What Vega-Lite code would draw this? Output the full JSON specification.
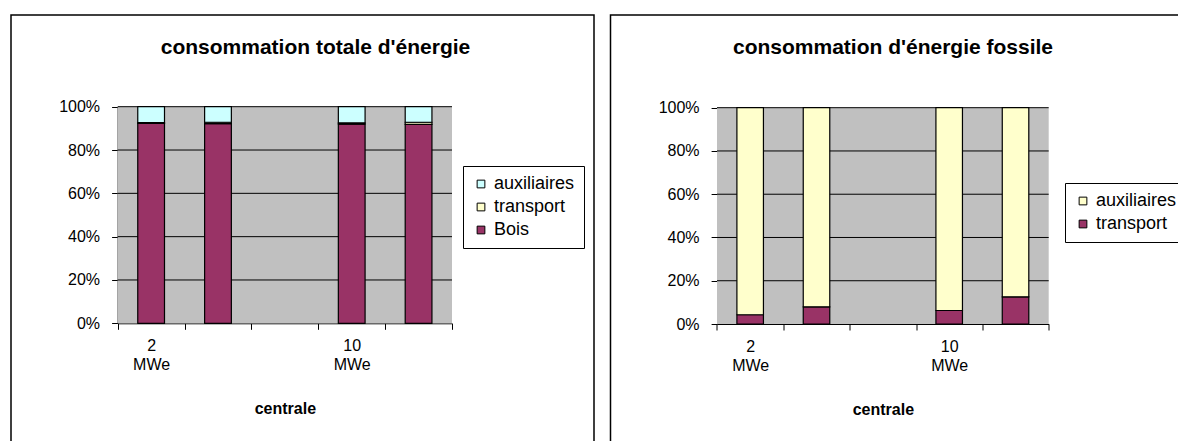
{
  "$schema": "https://vega.github.io/schema/vega-lite/v6.json",
  "background": "white",
  "padding": {"left": 10, "top": 14, "right": 0, "bottom": 0},
  "bounds": "flush",
  "spacing": 16.5,
  "datasets": {
    "energie": [
      {"centrale": "2 MWe a", "source": "Bois", "valeur": 92.3},
      {"centrale": "2 MWe a", "source": "transport", "valeur": 0.33},
      {"centrale": "2 MWe a", "source": "auxiliaires", "valeur": 7.37},
      {"centrale": "2 MWe b", "source": "Bois", "valeur": 92.2},
      {"centrale": "2 MWe b", "source": "transport", "valeur": 0.62},
      {"centrale": "2 MWe b", "source": "auxiliaires", "valeur": 7.18},
      {"centrale": "10 MWe a", "source": "Bois", "valeur": 92.0},
      {"centrale": "10 MWe a", "source": "transport", "valeur": 0.5},
      {"centrale": "10 MWe a", "source": "auxiliaires", "valeur": 7.5},
      {"centrale": "10 MWe b", "source": "Bois", "valeur": 91.8},
      {"centrale": "10 MWe b", "source": "transport", "valeur": 1.03},
      {"centrale": "10 MWe b", "source": "auxiliaires", "valeur": 7.17}
    ],
    "sources": [
      {"source": "Bois", "rang": 1},
      {"source": "transport", "rang": 2},
      {"source": "auxiliaires", "rang": 3}
    ],
    "paliers": [{"palier": 0.2}, {"palier": 0.4}, {"palier": 0.6}, {"palier": 0.8}, {"palier": 1.0}]
  },
  "hconcat": [
    {
      "width": 583,
      "height": 430,
      "title": {"text": "consommation totale d'énergie", "fontSize": 21, "fontWeight": "bold", "color": "black", "anchor": "middle", "frame": "group", "baseline": "alphabetic", "offset": -60, "dx": 13},
      "layer": [
        {
          "data": {"values": [{}]},
          "mark": {"type": "rect", "color": "#C0C0C0"},
          "encoding": {
            "x": {"datum": 0, "type": "quantitative", "scale": {"domain": [0, 1], "range": [106.7, 441]}, "axis": null},
            "x2": {"datum": 1},
            "y": {"datum": 0, "type": "quantitative", "axis": {"title": null, "values": [0, 0.2, 0.4, 0.6, 0.8, 1], "format": ".0%"}},
            "y2": {"datum": 1}
          }
        },
        {
          "data": {"name": "paliers"},
          "mark": {"type": "rule", "color": "black", "strokeWidth": 1},
          "encoding": {
            "x": {"datum": 0, "type": "quantitative", "scale": {"domain": [0, 1], "range": [106.7, 441]}, "axis": null},
            "x2": {"datum": 1},
            "y": {"field": "palier", "type": "quantitative", "axis": {"title": null, "values": [0, 0.2, 0.4, 0.6, 0.8, 1], "format": ".0%"}}
          }
        },
        {
          "data": {"name": "energie"},
          "transform": [{"lookup": "source", "from": {"data": {"name": "sources"}, "key": "source", "fields": ["rang"]}}],
          "mark": {"type": "bar", "stroke": "black", "strokeWidth": 1.2, "width": {"band": 0.4}},
          "encoding": {
            "x": {
              "field": "centrale", "type": "nominal",
              "scale": {"domain": ["2 MWe a", "2 MWe b", "(vide)", "10 MWe a", "10 MWe b"], "range": [106.7, 441], "paddingInner": 0, "paddingOuter": 0},
              "axis": {"title": "centrale", "titleFontSize": 16, "titleFontWeight": "bold", "titlePadding": 28, "labelAngle": 0, "labelExpr": "datum.value == '2 MWe a' ? ['2', 'MWe'] : datum.value == '10 MWe a' ? ['10', 'MWe'] : ''", "labelLineHeight": 19, "labelPadding": 8, "tickBand": "extent", "tickSize": 6, "offset": -121.7}
            },
            "y": {
              "field": "valeur", "type": "quantitative", "stack": "normalize",
              "scale": {"domain": [0, 1], "range": [308.3, 91.7], "nice": false},
              "axis": {"title": null, "values": [0, 0.2, 0.4, 0.6, 0.8, 1], "format": ".0%"}
            },
            "order": {"field": "rang", "type": "quantitative", "sort": "ascending"},
            "color": {
              "field": "source", "type": "nominal",
              "sort": ["auxiliaires", "transport", "Bois"],
              "scale": {"range": ["#CCFFFF", "#FFFFCC", "#993366"]},
              "legend": {"title": null, "orient": "none", "legendX": 452, "legendY": 151}
            }
          }
        }
      ],
      "resolve": {"scale": {"x": "independent"}}
    },
    {
      "width": 583,
      "height": 430,
      "title": {"text": "consommation d'énergie fossile", "fontSize": 21, "fontWeight": "bold", "color": "black", "anchor": "middle", "frame": "group", "baseline": "alphabetic", "offset": -60, "dx": -9},
      "layer": [
        {
          "data": {"values": [{}]},
          "mark": {"type": "rect", "color": "#C0C0C0"},
          "encoding": {
            "x": {"datum": 0, "type": "quantitative", "scale": {"domain": [0, 1], "range": [106.5, 438.2]}, "axis": null},
            "x2": {"datum": 1},
            "y": {"datum": 0, "type": "quantitative", "axis": {"title": null, "values": [0, 0.2, 0.4, 0.6, 0.8, 1], "format": ".0%"}},
            "y2": {"datum": 1}
          }
        },
        {
          "data": {"name": "paliers"},
          "mark": {"type": "rule", "color": "black", "strokeWidth": 1},
          "encoding": {
            "x": {"datum": 0, "type": "quantitative", "scale": {"domain": [0, 1], "range": [106.5, 438.2]}, "axis": null},
            "x2": {"datum": 1},
            "y": {"field": "palier", "type": "quantitative", "axis": {"title": null, "values": [0, 0.2, 0.4, 0.6, 0.8, 1], "format": ".0%"}}
          }
        },
        {
          "data": {"name": "energie"},
          "transform": [
            {"filter": "datum.source != 'Bois'"},
            {"lookup": "source", "from": {"data": {"name": "sources"}, "key": "source", "fields": ["rang"]}}
          ],
          "mark": {"type": "bar", "stroke": "black", "strokeWidth": 1.2, "width": {"band": 0.4}},
          "encoding": {
            "x": {
              "field": "centrale", "type": "nominal",
              "scale": {"domain": ["2 MWe a", "2 MWe b", "(vide)", "10 MWe a", "10 MWe b"], "range": [106.5, 438.2], "paddingInner": 0, "paddingOuter": 0},
              "axis": {"title": "centrale", "titleFontSize": 16, "titleFontWeight": "bold", "titlePadding": 28, "labelAngle": 0, "labelExpr": "datum.value == '2 MWe a' ? ['2', 'MWe'] : datum.value == '10 MWe a' ? ['10', 'MWe'] : ''", "labelLineHeight": 19, "labelPadding": 8, "tickBand": "extent", "tickSize": 6, "offset": -121}
            },
            "y": {
              "field": "valeur", "type": "quantitative", "stack": "normalize",
              "scale": {"domain": [0, 1], "range": [309, 92.7], "nice": false},
              "axis": {"title": null, "values": [0, 0.2, 0.4, 0.6, 0.8, 1], "format": ".0%"}
            },
            "order": {"field": "rang", "type": "quantitative", "sort": "ascending"},
            "color": {
              "field": "source", "type": "nominal",
              "sort": ["auxiliaires", "transport"],
              "scale": {"range": ["#FFFFCC", "#993366"]},
              "legend": {"title": null, "orient": "none", "legendX": 454.5, "legendY": 168}
            }
          }
        }
      ],
      "resolve": {"scale": {"x": "independent"}}
    }
  ],
  "resolve": {"scale": {"color": "independent"}, "legend": {"color": "independent"}},
  "config": {
    "font": "Liberation Sans",
    "view": {"stroke": "black", "strokeWidth": 1.5},
    "axis": {"domainColor": "black", "domainWidth": 1, "tickColor": "black", "labelColor": "black", "titleColor": "black", "labelFont": "Liberation Sans", "labelFontSize": 16, "titleFont": "Liberation Sans", "zindex": 1, "grid": false},
    "axisY": {"tickSize": 6, "labelPadding": 12, "offset": -106.6, "labelOverlap": false, "labelFlush": false},
    "legend": {"labelFont": "Liberation Sans", "symbolType": "square", "symbolSize": 60, "symbolStrokeColor": "black", "symbolStrokeWidth": 1, "labelFontSize": 18, "labelColor": "black", "rowPadding": 5, "padding": 9, "strokeColor": "black", "fillColor": "white", "labelOffset": 4},
    "title": {"font": "Liberation Sans"}
  }
}
